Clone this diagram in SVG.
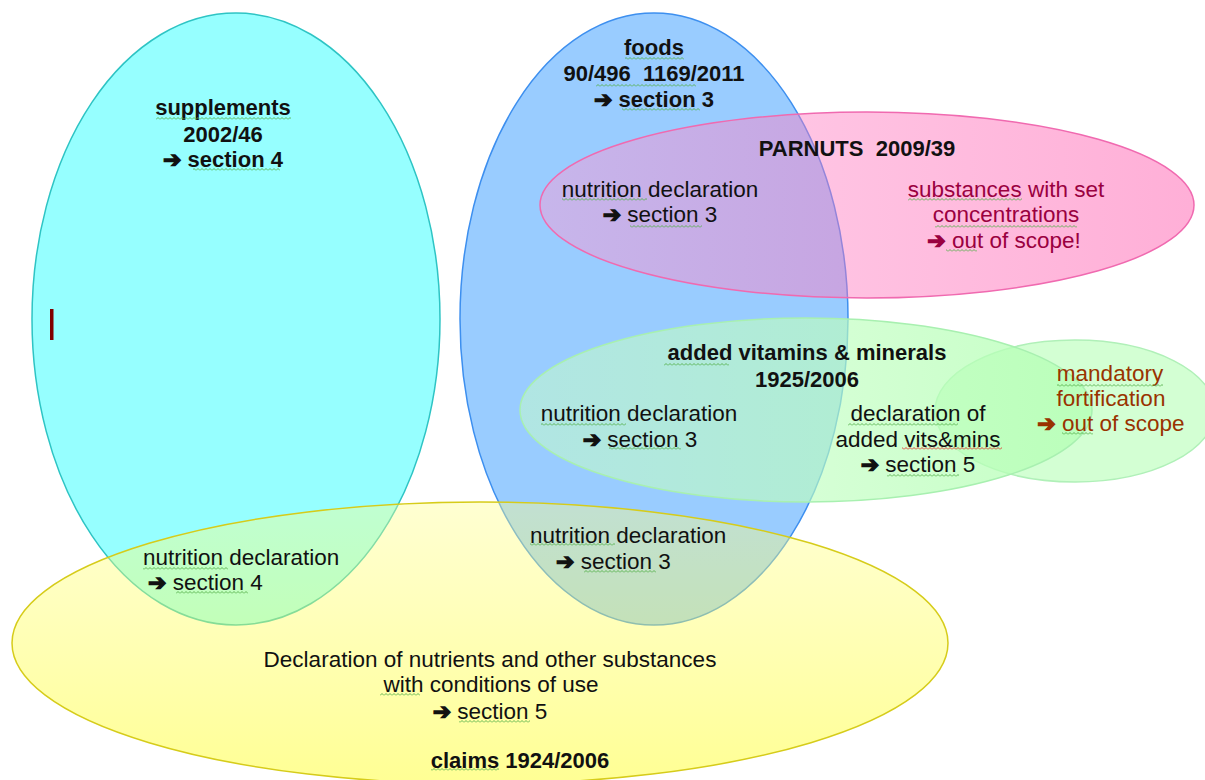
<svg xmlns="http://www.w3.org/2000/svg" width="1205" height="780" viewBox="0 0 1205 780">
<defs>
<linearGradient id="gPink" x1="0" y1="0" x2="1" y2="0">
<stop offset="0" stop-color="#ff9bd3" stop-opacity="0.45"/>
<stop offset="1" stop-color="#ff4da6" stop-opacity="0.45"/>
</linearGradient>
<linearGradient id="gGreen" x1="0" y1="0" x2="1" y2="0">
<stop offset="0" stop-color="#c8ffc8" stop-opacity="0.5"/>
<stop offset="1" stop-color="#b4ffb4" stop-opacity="0.78"/>
</linearGradient>
<linearGradient id="gYellow" x1="0" y1="0" x2="0" y2="1">
<stop offset="0" stop-color="#ffff8e" stop-opacity="0.4"/>
<stop offset="1" stop-color="#ffff10" stop-opacity="0.45"/>
</linearGradient>
<pattern id="sq" width="4" height="3" patternUnits="userSpaceOnUse">
<path d="M0 2.5 L2 0.5 L4 2.5" fill="none" stroke="#55b04a" stroke-width="0.9"/>
</pattern>
<pattern id="sqr" width="4" height="3" patternUnits="userSpaceOnUse">
<path d="M0 2.5 L2 0.5 L4 2.5" fill="none" stroke="#e0302a" stroke-width="0.9"/>
</pattern>
</defs>
<style>
text{font-family:"Liberation Sans",Arial,"DejaVu Sans",sans-serif;font-size:22.5px;fill:#111;text-anchor:middle;white-space:pre}
.b{font-weight:bold;font-size:22px}
.st{text-anchor:start}
.red{fill:#9a0040}
.brn{fill:#993300}
.ar{font-family:"DejaVu Sans",sans-serif;font-size:22px;stroke:#111;stroke-width:1.3}
.ar.red{stroke:#9a0040}
.ar.brn{stroke:#993300}
.sq{fill:url(#sq)}
.sqr{fill:url(#sqr)}
</style>
<rect width="1205" height="780" fill="#ffffff"/>

<g id="supplements">
<ellipse cx="236" cy="319" rx="204" ry="306" fill="#96ffff" stroke="#2ec4c4" stroke-width="1.5"/>
</g>
<g id="foods">
<ellipse cx="654" cy="319" rx="194" ry="306" fill="#99ccff" stroke="#3d8fef" stroke-width="1.5"/>
</g>
<g id="parnuts">
<ellipse cx="867" cy="205" rx="327" ry="93" fill="url(#gPink)" stroke="#f06ab0" stroke-width="1.5"/>
</g>
<g id="mandatory">
<ellipse cx="1075" cy="411" rx="140" ry="71" fill="#c0ffc0" fill-opacity="0.7" stroke="#b0f0b8" stroke-width="1.5"/>
</g>
<g id="vitamins">
<ellipse cx="806" cy="410" rx="286" ry="92" fill="url(#gGreen)" stroke="#a8f0b0" stroke-width="1.5"/>
</g>
<g id="claims">
<ellipse cx="480" cy="643" rx="468" ry="141" fill="url(#gYellow)" stroke="#d6cc1a" stroke-width="1.5"/>
</g>

<g id="supplements-text">
<text class="b" x="223" y="115">supplements</text>
<text class="b" x="223" y="142">2002/46</text>
<text class="b" x="223" y="167"><tspan class="ar">➔</tspan> section 4</text>
<rect x="50" y="309" width="3.5" height="31" fill="#800000"/>
</g>

<g id="foods-text">
<text class="b" x="654" y="55">foods</text>
<text class="b" x="654" y="81">90/496  1169/2011</text>
<text class="b" x="654" y="107"><tspan class="ar">➔</tspan> section 3</text>
</g>

<g id="parnuts-text">
<text class="b" x="857" y="156">PARNUTS  2009/39</text>
<text x="660" y="197">nutrition declaration</text>
<text x="660" y="222"><tspan class="ar">➔</tspan> section 3</text>
<text class="red" x="1006" y="197">substances with set</text>
<text class="red" x="1006" y="222">concentrations</text>
<text class="red" x="1004" y="248"><tspan class="ar red">➔</tspan> out of scope!</text>
</g>

<g id="vitamins-text">
<text class="b" x="807" y="360">added vitamins &amp; minerals</text>
<text class="b" x="807" y="387">1925/2006</text>
<text x="639" y="421">nutrition declaration</text>
<text x="640" y="447"><tspan class="ar">➔</tspan> section 3</text>
<text x="918" y="421">declaration of</text>
<text x="918" y="447">added vits&amp;mins</text>
<text x="918" y="472"><tspan class="ar">➔</tspan> section 5</text>
</g>

<g id="mandatory-text">
<text class="brn" x="1110" y="381">mandatory</text>
<text class="brn" x="1111" y="406">fortification</text>
<text class="brn" x="1111" y="431"><tspan class="ar brn">➔</tspan> out of scope</text>
</g>

<g id="claims-text">
<text class="st" x="143" y="565">nutrition declaration</text>
<text class="st" x="148" y="590"><tspan class="ar">➔</tspan> section 4</text>
<text class="st" x="530" y="543">nutrition declaration</text>
<text class="st" x="556" y="569"><tspan class="ar">➔</tspan> section 3</text>
<text x="490" y="667">Declaration of nutrients and other substances</text>
<text x="491" y="692">with conditions of use</text>
<text x="490" y="719"><tspan class="ar">➔</tspan> section 5</text>
<text class="b" x="520" y="768">claims 1924/2006</text>
</g>

<g id="spellcheck-marks">
<rect class="sq" x="625" y="57" width="59" height="3"/>
<rect class="sq" x="596" y="84" width="100" height="3"/>
<rect class="sq" x="622" y="108" width="78" height="3"/>
<rect class="sq" x="156" y="117" width="135" height="3"/>
<rect class="sq" x="193" y="168" width="87" height="3"/>
<rect class="sq" x="562" y="198" width="85" height="3"/>
<rect class="sq" x="630" y="225" width="72" height="3"/>
<rect class="sq" x="908" y="198" width="114" height="3"/>
<rect class="sq" x="935" y="225" width="142" height="3"/>
<rect class="sq" x="946" y="249" width="31" height="3"/>
<rect class="sq" x="664" y="363" width="65" height="3"/>
<rect class="sq" x="541" y="423" width="85" height="3"/>
<rect class="sq" x="609" y="447" width="72" height="3"/>
<rect class="sq" x="848" y="423" width="110" height="3"/>
<rect class="sqr" x="902" y="447" width="100" height="3"/>
<rect class="sq" x="887" y="474" width="72" height="3"/>
<rect class="sq" x="1057" y="384" width="106" height="3"/>
<rect class="sq" x="1062" y="432" width="31" height="3"/>
<rect class="sq" x="143" y="567" width="85" height="3"/>
<rect class="sq" x="176" y="591" width="72" height="3"/>
<rect class="sq" x="530" y="543" width="85" height="3"/>
<rect class="sq" x="584" y="570" width="72" height="3"/>
<rect class="sq" x="380" y="693" width="40" height="3"/>
<rect class="sq" x="459" y="720" width="71" height="3"/>
<rect class="sq" x="431" y="768" width="68" height="3"/>
</g>
</svg>
